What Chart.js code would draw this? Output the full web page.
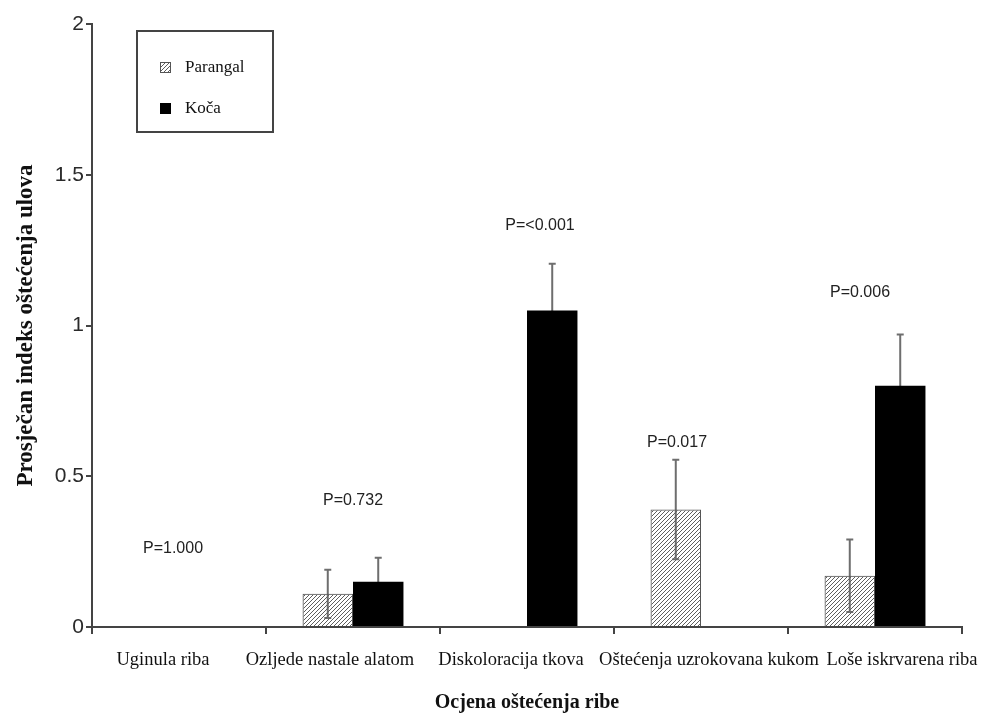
<!DOCTYPE html>
<html>
<head>
<meta charset="utf-8">
<script src="https://cdn.jsdelivr.net/npm/chart.js@4"></script>
<style>
    body { margin: 0; background: #fff; }
    #wrap { width: 983px; height: 715px; position: relative; }
</style>
</head>
<body>
<div id="wrap"><canvas id="damageChart"></canvas></div>
<script>
// Chart data
const categories = ['Uginula riba', 'Ozljede nastale alatom', 'Diskoloracija tkova', 'Oštećenja uzrokovana kukom', 'Loše iskrvarena riba'];
const parangalValues = [0, 0.11, 0, 0.39, 0.17];
const parangalErrors = [0, 0.08, 0, 0.165, 0.12];
const kocaValues = [0, 0.15, 1.05, 0, 0.80];
const kocaErrors = [0, 0.08, 0.155, 0, 0.17];
const pLabels = ['P=1.000', 'P=0.732', 'P=<0.001', 'P=0.017', 'P=0.006'];
const pLabelLevels = [0.26, 0.42, 1.33, 0.61, 1.11];
const yTicks = [0, 0.5, 1, 1.5, 2];

// small horizontal nudges (px) so the labels sit like in the original figure
const catLabelNudge = [-16, -23, -16, 8, 27];
const pLabelNudge = [-6, 0, 13, -24, -15];

const SERIF = '"Liberation Serif", "Times New Roman", serif';
const SANS = '"Liberation Sans", Arial, sans-serif';

// Hatch pattern for Parangal bars
function makeHatch() {
    const size = 4;
    const c = document.createElement('canvas');
    c.width = size;
    c.height = size;
    const g = c.getContext('2d');
    g.strokeStyle = '#5e5e5e';
    g.lineWidth = 1;
    g.beginPath();
    g.moveTo(0, size); g.lineTo(size, 0);
    g.moveTo(-1, 1); g.lineTo(1, -1);
    g.moveTo(size - 1, size + 1); g.lineTo(size + 1, size - 1);
    g.stroke();
    return g.createPattern(c, 'repeat');
}
const hatch = makeHatch();

// Error bars, drawn under the bars so black bars hide the lower whisker
const errorBarPlugin = {
    id: 'errorBars',
    beforeDatasetsDraw(chart) {
        const ctx = chart.ctx;
        const y = chart.scales.y;
        const errs = [parangalErrors, kocaErrors];
        ctx.save();
        ctx.strokeStyle = '#6e6e6e';
        ctx.lineWidth = 2;
        chart.data.datasets.forEach((ds, di) => {
            chart.getDatasetMeta(di).data.forEach((bar, i) => {
                const e = errs[di][i];
                if (!e) return;
                const v = ds.data[i];
                const top = y.getPixelForValue(v + e);
                const bot = y.getPixelForValue(v - e);
                ctx.beginPath();
                ctx.moveTo(bar.x, top);
                ctx.lineTo(bar.x, bot);
                ctx.moveTo(bar.x - 3.5, top);
                ctx.lineTo(bar.x + 3.5, top);
                ctx.moveTo(bar.x - 3.5, bot);
                ctx.lineTo(bar.x + 3.5, bot);
                ctx.stroke();
            });
        });
        ctx.restore();
    }
};

// P-value annotations and category labels
const textPlugin = {
    id: 'texts',
    afterDatasetsDraw(chart) {
        const ctx = chart.ctx;
        const x = chart.scales.x;
        const y = chart.scales.y;
        ctx.save();
        ctx.font = '16px ' + SANS;
        ctx.fillStyle = '#222';
        ctx.textAlign = 'center';
        ctx.textBaseline = 'middle';
        pLabels.forEach((t, i) => {
            ctx.fillText(t, x.getPixelForValue(i) + pLabelNudge[i], y.getPixelForValue(pLabelLevels[i]));
        });
        ctx.font = '18.5px ' + SERIF;
        ctx.fillStyle = '#111';
        categories.forEach((t, i) => {
            ctx.fillText(t, x.getPixelForValue(i) + catLabelNudge[i], x.top + 33);
        });
        ctx.restore();
    }
};

// Boxed legend in the upper left of the plot
const boxLegendPlugin = {
    id: 'boxLegend',
    afterDraw(chart) {
        const ctx = chart.ctx;
        const area = chart.chartArea;
        const bx = area.left + 45, by = area.top + 7, bw = 136, bh = 101;
        ctx.save();
        ctx.strokeStyle = '#444';
        ctx.lineWidth = 2;
        ctx.strokeRect(bx, by, bw, bh);
        ctx.font = '17px ' + SERIF;
        ctx.textBaseline = 'middle';
        ctx.textAlign = 'left';
        chart.data.datasets.forEach((ds, i) => {
            const cy = by + 37 + i * 41;
            const sx = bx + 23;
            ctx.fillStyle = '#fff';
            ctx.fillRect(sx, cy - 6, 11, 11);
            ctx.fillStyle = ds.backgroundColor;
            ctx.fillRect(sx, cy - 6, 11, 11);
            ctx.strokeStyle = ds.borderColor;
            ctx.lineWidth = 1;
            ctx.strokeRect(sx + 0.5, cy - 5.5, 10, 10);
            ctx.fillStyle = '#111';
            ctx.fillText(ds.label, bx + 48, cy);
        });
        ctx.restore();
    }
};

function buildChart() {
    const ctx = document.getElementById('damageChart').getContext('2d');
    new Chart(ctx, {
        type: 'bar',
        data: {
            labels: categories,
            datasets: [{
                label: 'Parangal',
                data: parangalValues,
                backgroundColor: hatch,
                borderColor: '#555',
                borderWidth: 1,
                borderSkipped: 'bottom',
                categoryPercentage: 0.58,
                barPercentage: 1.0
            }, {
                label: 'Koča',
                data: kocaValues,
                backgroundColor: '#000',
                borderColor: '#000',
                borderWidth: 0,
                categoryPercentage: 0.58,
                barPercentage: 1.0
            }]
        },
        options: {
            responsive: true,
            maintainAspectRatio: false,
            animation: false,
            layout: { padding: { left: 8, right: 21, top: 24, bottom: 0 } },
            plugins: {
                legend: { display: false },
                tooltip: { enabled: false }
            },
            scales: {
                x: {
                    grid: { display: true, drawOnChartArea: false, tickLength: 7, color: '#444', lineWidth: 2 },
                    border: { color: '#444', width: 2 },
                    ticks: { display: false },
                    title: {
                        display: true,
                        text: 'Ocjena oštećenja ribe',
                        color: '#111',
                        padding: { top: 0, bottom: 0 },
                        font: { family: SERIF, size: 20, weight: 'bold' }
                    },
                    afterFit(s) { s.height = 88; }
                },
                y: {
                    min: 0,
                    max: 2,
                    afterBuildTicks(s) { s.ticks = yTicks.map(v => ({ value: v })); },
                    grid: { display: true, drawOnChartArea: false, tickLength: 6, color: '#444', lineWidth: 2 },
                    border: { color: '#444', width: 2 },
                    ticks: {
                        padding: 2,
                        color: '#2a2a2a',
                        callback: v => String(v),
                        font: { family: SANS, size: 21 }
                    },
                    title: {
                        display: true,
                        text: 'Prosječan indeks oštećenja ulova',
                        color: '#111',
                        padding: { bottom: 4 },
                        font: { family: SERIF, size: 23, weight: 'bold' }
                    },
                    afterFit(s) { s.width = 84; }
                }
            }
        },
        plugins: [errorBarPlugin, textPlugin, boxLegendPlugin]
    });
}

document.addEventListener('DOMContentLoaded', buildChart);
</script>
</body>
</html>
